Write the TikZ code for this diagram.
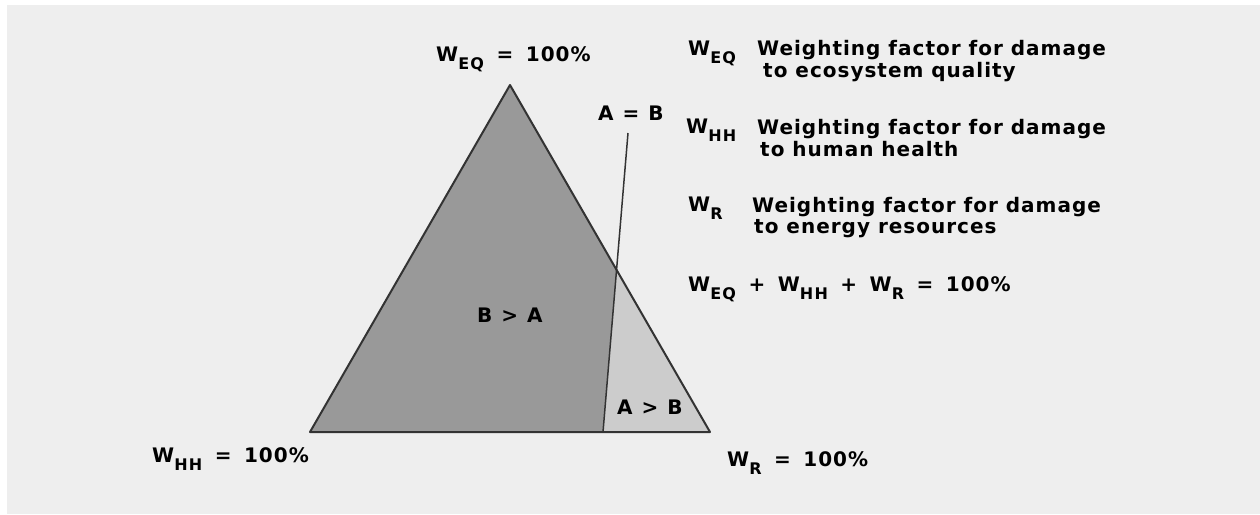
\documentclass[tikz,border=0pt]{standalone}
\usepackage{fontspec}
\usepackage{graphicx}
\setmainfont{DejaVu Sans}
\definecolor{bgc}{HTML}{EEEEEE}
\definecolor{darkg}{HTML}{999999}
\definecolor{lightg}{HTML}{CCCCCC}
\definecolor{edgec}{HTML}{333333}
\newcommand{\wsub}[1]{\raisebox{-8pt}{\fontsize{16}{16}\selectfont\addfontfeature{LetterSpace=8}#1}}
\newcommand{\gap}{\hspace{12.5pt}}
\newcommand{\sgap}{\hspace{9pt}}
\begin{document}
\begin{tikzpicture}[x=1pt,y=-1pt,
  lbl/.style={font=\bfseries\fontsize{20}{24}\selectfont\addfontfeature{LetterSpace=5}, inner sep=0pt, anchor=base west, text=black},
  edge/.style={draw=edgec, line width=2pt, line join=round},
  divider/.style={draw=edgec, line width=1.5pt}]
\fill[white] (0,0) rectangle (1260,514);
\fill[bgc] (7,5) rectangle (1260,514);
\useasboundingbox (0,0) rectangle (1260,514);
% triangle geometry
\coordinate (apex) at (510,85);
\coordinate (hl) at (310,432);
\coordinate (rr) at (710,432);
\coordinate (bot) at (603,432);
\coordinate (top) at (628,133);
\coordinate (mid) at (intersection of apex--rr and bot--top);
\fill[darkg] (apex) -- (hl) -- (bot) -- (mid) -- cycle;
\fill[lightg] (mid) -- (bot) -- (rr) -- cycle;
\draw[edge] (apex) -- (hl) -- (rr) -- cycle;
\draw[divider] (bot) -- (top);
% labels on triangle
\node[lbl] (weq100) at (436,61.5) {W\wsub{EQ}\gap=\gap100\%};
\node[lbl] (whh100) at (152,462) {W\wsub{HH}\gap=\gap100\%};
\node[lbl] (wr100) at (727,466.5) {W\wsub{R}\gap=\gap100\%};
\node[lbl] (aeqb) at (598,120) {A\sgap=\sgap B};
\node[lbl] (bgta) at (477,322) {B\sgap>\sgap A};
\node[lbl] (agtb) at (617,414) {A\sgap>\sgap B};
% legend
\node[lbl] (l1s) at (688,55) {W\wsub{EQ}};
\node[lbl] (l1a) at (757,55) {Weighting factor for damage};
\node[lbl] (l1b) at (763,77) {to ecosystem quality};
\node[lbl] (l2s) at (686,133) {W\wsub{HH}};
\node[lbl] (l2a) at (757,134) {Weighting factor for damage};
\node[lbl] (l2b) at (760,156) {to human health};
\node[lbl] (l3s) at (688,211) {W\wsub{R}};
\node[lbl] (l3a) at (752,212.5) {Weighting factor for damage};
\node[lbl] (l3b) at (754,233) {to energy resources};
\node[lbl] (sum) at (688,291) {W\wsub{EQ}\gap+\gap W\wsub{HH}\gap+\gap W\wsub{R}\gap=\gap100\%};
\end{tikzpicture}
\end{document}
